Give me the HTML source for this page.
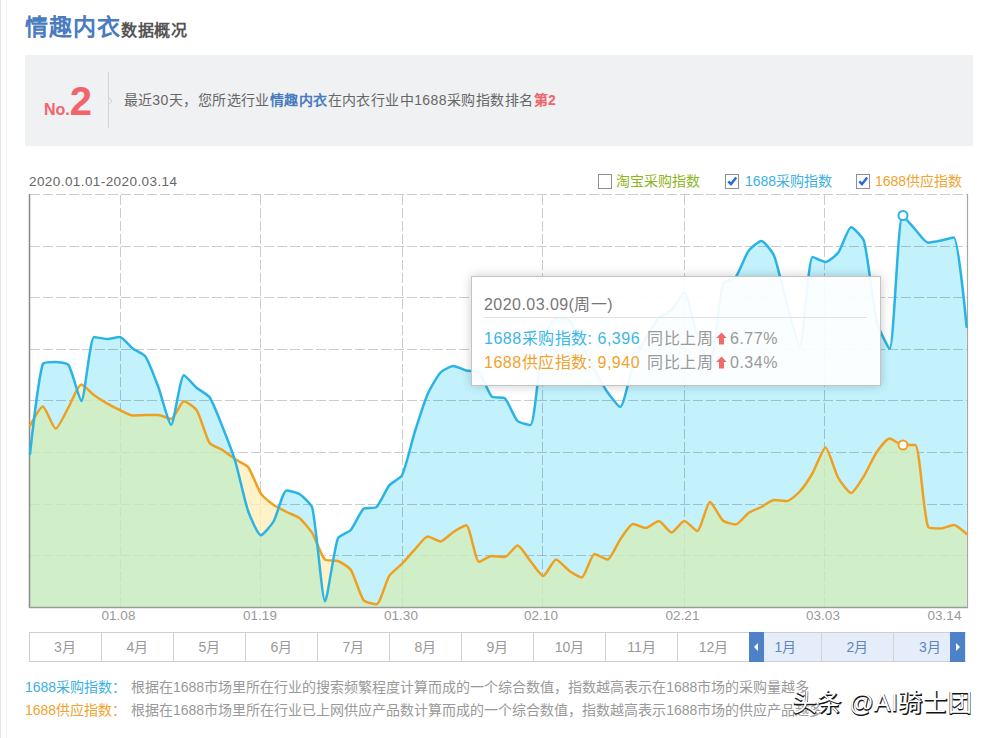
<!DOCTYPE html>
<html lang="zh-CN"><head><meta charset="utf-8">
<style>
*{margin:0;padding:0;box-sizing:border-box}
html,body{width:996px;height:738px;overflow:hidden;background:#fff}
body{position:relative;font-family:"Liberation Sans",sans-serif;color:#666}
.abs{position:absolute;white-space:nowrap}
#leftbar{left:0;top:0;width:1px;height:738px;background:#e6e6e6}
#title{left:25px;top:12px;line-height:30px}
#title .t1{font-size:23px;font-weight:bold;color:#4a7cc0;letter-spacing:1px}
#title .t2{font-size:16px;font-weight:bold;color:#555;position:relative;top:1px;letter-spacing:0.5px}
#rankbox{left:25px;top:55px;width:948px;height:91px;background:#f0f1f3}
#no{left:44px;top:80.5px;line-height:40px;color:#f2636b;font-weight:bold}
#no .n1{font-size:16px}
#no .n2{font-size:40px;margin-left:0}
#divider{left:108px;top:72px;width:1px;height:56px;background:#d3d3d3}
#rtext{left:123.5px;top:90px;font-size:14px;line-height:20px;color:#666;letter-spacing:0.43px}
#rtext b{color:#4a7cc0}
#rtext .r{color:#f2636b}
#daterange{left:29px;top:171.5px;font-size:13.5px;line-height:20px;color:#666;letter-spacing:0.42px}
.cb{position:absolute;width:14px;height:14.5px;border:1px solid #8f8f8f;background:#fff}
.cbl{position:absolute;font-size:14px;line-height:20px;white-space:nowrap}
.xl{position:absolute;top:607px;font-size:13.5px;line-height:18px;color:#999;white-space:nowrap;transform:translateX(-50%)}
#months{left:29px;top:632px;width:937px;height:30px;border:1px solid #cfcfcf;background:#fff}
.mc{position:absolute;top:0;height:28px;width:72px;border-left:1px solid #d2d2d2;text-align:center;font-size:14px;line-height:28px;color:#999}
.sel{background:#e4edf9;color:#5f86bd}
.arr{position:absolute;top:-1px;width:15px;height:30px;background:#4d82c9}
#notes div{position:relative;height:23px}
#notes{left:25px;top:676px;font-size:14px;line-height:23px;color:#999}
#notes .ds{position:absolute;left:106px}
#notes .b{color:#3cb1e1}
#notes .o{color:#f0a32e}
#wm{left:793px;top:689px;font-size:24px;line-height:30px;color:#111;letter-spacing:0.7px;-webkit-text-stroke:0.9px #111}
#wm2{left:792.5px;top:688px;font-size:24px;line-height:30px;color:#fff;letter-spacing:0.7px}
#tip{left:471px;top:276px;width:410px;height:110px;background:rgba(255,255,255,0.93);border:1px solid #c4c4c4;box-shadow:0 0 10px rgba(0,0,0,0.2)}
#tip .d{position:absolute;left:12px;top:16px;font-size:16px;line-height:24px;color:#777;letter-spacing:0.45px}
#tip .sep{position:absolute;left:12px;top:40px;width:383px;height:1px;background:#e2e2e2}
#tip .l{position:absolute;left:12px;font-size:16px;line-height:24px;color:#999;letter-spacing:0.5px}
#tip .l .b{color:#3cb6e6}
#tip .l .o{color:#f0a32e}
</style></head><body>
<div id="leftbar" class="abs"></div><div class="abs" style="left:6px;top:0;width:1px;height:738px;background:#f5f5f5"></div>
<div id="title" class="abs"><span class="t1">情趣内衣</span><span class="t2">数据概况</span></div>
<div id="rankbox" class="abs"></div>
<div id="no" class="abs"><span class="n1">No.</span><span class="n2">2</span></div>
<div id="divider" class="abs"></div><svg class="abs" style="left:106px;top:94px" width="8" height="14" viewBox="0 0 8 14"><path d="M2.5 3 L6 7 L2.5 11" fill="none" stroke="#d3d3d3" stroke-width="1"/></svg>
<div id="rtext" class="abs">最近30天，您所选行业<b>情趣内衣</b>在内衣行业中1688采购指数排名<b class="r">第2</b></div>
<div id="daterange" class="abs">2020.01.01-2020.03.14</div>

<div class="cb" style="left:598px;top:174px"></div>
<div class="cbl" style="left:616px;top:171px;color:#8db520">淘宝采购指数</div>
<div class="cb" style="left:725px;top:174px"><svg width="12" height="12" viewBox="0 0 12 12" style="position:absolute;left:0;top:0"><path d="M2.3 6.3 L5 9.2 L10.2 2.6" fill="none" stroke="#2a6ad8" stroke-width="2.5"/></svg></div>
<div class="cbl" style="left:745px;top:171px;color:#3cb1e1">1688采购指数</div>
<div class="cb" style="left:856px;top:174px"><svg width="12" height="12" viewBox="0 0 12 12" style="position:absolute;left:0;top:0"><path d="M2.3 6.3 L5 9.2 L10.2 2.6" fill="none" stroke="#2a6ad8" stroke-width="2.5"/></svg></div>
<div class="cbl" style="left:875px;top:171px;color:#f0a32e">1688供应指数</div>

<svg class="abs" style="left:0;top:0" width="996" height="738" viewBox="0 0 996 738">
  <defs>
    <clipPath id="bclip"><path d="M30.00 454.00 C30.00 454.00 38.34 378.00 42.83 364.00 C43.47 362.00 53.11 362.00 55.66 362.00 C58.25 362.00 67.17 363.00 68.49 365.00 C72.31 370.80 79.43 401.00 81.32 401.00 C84.56 401.00 89.87 337.00 94.15 337.00 C95.00 337.00 104.41 339.00 106.98 339.00 C109.55 339.00 117.61 337.00 119.81 337.00 C122.74 337.00 129.91 346.42 132.64 348.50 C135.04 350.34 143.85 354.17 145.47 356.60 C148.99 361.87 155.98 380.83 158.30 387.00 C161.11 394.45 168.88 424.70 171.13 424.70 C174.01 424.70 180.17 375.30 183.96 375.30 C185.30 375.30 194.06 385.66 196.79 388.00 C199.19 390.06 207.92 394.74 209.62 397.30 C213.06 402.48 220.07 420.75 222.45 426.70 C225.20 433.55 233.14 454.25 235.28 461.30 C238.27 471.11 244.77 501.36 248.11 511.00 C249.90 516.14 257.92 535.20 260.94 535.20 C263.05 535.20 271.89 524.28 273.77 521.00 C277.02 515.34 282.94 490.50 286.60 490.50 C288.07 490.50 297.31 492.57 299.43 494.00 C302.44 496.03 311.41 504.23 312.26 507.80 C316.54 525.69 322.04 601.30 325.09 601.30 C327.17 601.30 333.78 549.82 337.92 538.30 C338.91 535.56 348.80 532.25 350.75 530.00 C353.93 526.35 360.21 511.80 363.58 508.80 C365.34 507.24 374.68 508.78 376.41 507.20 C379.81 504.10 386.13 489.28 389.24 485.40 C391.26 482.88 400.72 478.05 402.07 475.20 C405.85 467.27 412.16 440.18 414.90 431.50 C417.30 423.92 424.58 401.15 427.73 393.90 C429.71 389.35 437.31 376.04 440.56 372.50 C442.44 370.46 450.76 366.00 453.39 366.00 C455.89 366.00 463.60 369.84 466.22 370.50 C468.73 371.14 477.40 370.82 479.05 372.50 C482.53 376.04 488.40 393.22 491.88 396.60 C493.53 398.20 503.02 396.60 504.72 398.20 C508.15 401.44 514.15 417.46 517.55 421.00 C519.29 422.82 529.68 425.00 530.38 425.00 C534.81 425.00 539.23 356.50 543.21 340.00 C544.36 335.20 552.65 318.50 556.04 318.50 C557.78 318.50 567.25 318.50 568.87 320.00 C572.38 323.26 579.13 340.00 581.70 345.00 C584.26 350.00 591.83 365.07 594.53 370.00 C596.97 374.47 604.46 387.83 607.36 392.00 C609.60 395.23 618.59 407.00 620.19 407.00 C623.73 407.00 629.96 373.21 633.02 365.00 C635.09 359.41 642.99 343.24 645.85 338.00 C648.12 333.84 655.54 321.42 658.68 318.00 C660.67 315.82 669.40 312.09 671.51 310.00 C674.53 306.99 682.65 292.50 684.34 292.50 C687.78 292.50 694.21 326.64 697.17 335.00 C699.34 341.14 708.54 365.00 710.00 365.00 C713.67 365.00 718.47 298.94 722.83 284.00 C723.60 281.34 733.94 279.21 735.66 277.00 C739.07 272.61 745.20 255.61 748.49 251.00 C750.33 248.41 759.00 241.00 761.32 241.00 C764.13 241.00 772.71 252.41 774.15 256.00 C777.84 265.21 784.20 295.26 786.98 305.00 C789.33 313.26 798.15 346.00 799.81 346.00 C803.28 346.00 808.19 257.00 812.64 257.00 C813.32 257.00 823.09 262.00 825.47 262.00 C828.22 262.00 836.45 255.09 838.30 252.60 C841.59 248.15 848.04 227.30 851.13 227.30 C853.17 227.30 863.00 237.47 863.96 241.00 C868.14 256.41 873.03 306.17 876.79 322.00 C878.16 327.77 888.68 349.00 889.62 349.00 C893.82 349.00 897.96 215.40 902.45 215.40 C903.09 215.40 912.67 226.72 915.28 229.50 C917.80 232.18 925.10 242.70 928.11 242.70 C930.23 242.70 938.39 241.11 940.94 240.60 C943.52 240.09 953.12 237.60 953.77 237.60 C958.25 237.60 966.60 327.00 966.60 327.00 L966.60 607.50 L30.00 607.50 Z"/></clipPath>
  </defs>
  <path d="M30.00 454.00 C30.00 454.00 38.34 378.00 42.83 364.00 C43.47 362.00 53.11 362.00 55.66 362.00 C58.25 362.00 67.17 363.00 68.49 365.00 C72.31 370.80 79.43 401.00 81.32 401.00 C84.56 401.00 89.87 337.00 94.15 337.00 C95.00 337.00 104.41 339.00 106.98 339.00 C109.55 339.00 117.61 337.00 119.81 337.00 C122.74 337.00 129.91 346.42 132.64 348.50 C135.04 350.34 143.85 354.17 145.47 356.60 C148.99 361.87 155.98 380.83 158.30 387.00 C161.11 394.45 168.88 424.70 171.13 424.70 C174.01 424.70 180.17 375.30 183.96 375.30 C185.30 375.30 194.06 385.66 196.79 388.00 C199.19 390.06 207.92 394.74 209.62 397.30 C213.06 402.48 220.07 420.75 222.45 426.70 C225.20 433.55 233.14 454.25 235.28 461.30 C238.27 471.11 244.77 501.36 248.11 511.00 C249.90 516.14 257.92 535.20 260.94 535.20 C263.05 535.20 271.89 524.28 273.77 521.00 C277.02 515.34 282.94 490.50 286.60 490.50 C288.07 490.50 297.31 492.57 299.43 494.00 C302.44 496.03 311.41 504.23 312.26 507.80 C316.54 525.69 322.04 601.30 325.09 601.30 C327.17 601.30 333.78 549.82 337.92 538.30 C338.91 535.56 348.80 532.25 350.75 530.00 C353.93 526.35 360.21 511.80 363.58 508.80 C365.34 507.24 374.68 508.78 376.41 507.20 C379.81 504.10 386.13 489.28 389.24 485.40 C391.26 482.88 400.72 478.05 402.07 475.20 C405.85 467.27 412.16 440.18 414.90 431.50 C417.30 423.92 424.58 401.15 427.73 393.90 C429.71 389.35 437.31 376.04 440.56 372.50 C442.44 370.46 450.76 366.00 453.39 366.00 C455.89 366.00 463.60 369.84 466.22 370.50 C468.73 371.14 477.40 370.82 479.05 372.50 C482.53 376.04 488.40 393.22 491.88 396.60 C493.53 398.20 503.02 396.60 504.72 398.20 C508.15 401.44 514.15 417.46 517.55 421.00 C519.29 422.82 529.68 425.00 530.38 425.00 C534.81 425.00 539.23 356.50 543.21 340.00 C544.36 335.20 552.65 318.50 556.04 318.50 C557.78 318.50 567.25 318.50 568.87 320.00 C572.38 323.26 579.13 340.00 581.70 345.00 C584.26 350.00 591.83 365.07 594.53 370.00 C596.97 374.47 604.46 387.83 607.36 392.00 C609.60 395.23 618.59 407.00 620.19 407.00 C623.73 407.00 629.96 373.21 633.02 365.00 C635.09 359.41 642.99 343.24 645.85 338.00 C648.12 333.84 655.54 321.42 658.68 318.00 C660.67 315.82 669.40 312.09 671.51 310.00 C674.53 306.99 682.65 292.50 684.34 292.50 C687.78 292.50 694.21 326.64 697.17 335.00 C699.34 341.14 708.54 365.00 710.00 365.00 C713.67 365.00 718.47 298.94 722.83 284.00 C723.60 281.34 733.94 279.21 735.66 277.00 C739.07 272.61 745.20 255.61 748.49 251.00 C750.33 248.41 759.00 241.00 761.32 241.00 C764.13 241.00 772.71 252.41 774.15 256.00 C777.84 265.21 784.20 295.26 786.98 305.00 C789.33 313.26 798.15 346.00 799.81 346.00 C803.28 346.00 808.19 257.00 812.64 257.00 C813.32 257.00 823.09 262.00 825.47 262.00 C828.22 262.00 836.45 255.09 838.30 252.60 C841.59 248.15 848.04 227.30 851.13 227.30 C853.17 227.30 863.00 237.47 863.96 241.00 C868.14 256.41 873.03 306.17 876.79 322.00 C878.16 327.77 888.68 349.00 889.62 349.00 C893.82 349.00 897.96 215.40 902.45 215.40 C903.09 215.40 912.67 226.72 915.28 229.50 C917.80 232.18 925.10 242.70 928.11 242.70 C930.23 242.70 938.39 241.11 940.94 240.60 C943.52 240.09 953.12 237.60 953.77 237.60 C958.25 237.60 966.60 327.00 966.60 327.00 L966.60 607.50 L30.00 607.50 Z" fill="#c3f2fd"/>
  <g stroke="#000" stroke-width="1" stroke-dasharray="10 3" stroke-opacity="0.2">
    <line x1="30" y1="194.5" x2="967" y2="194.5"/>
    <line x1="30" y1="246.5" x2="967" y2="246.5"/>
    <line x1="30" y1="297.5" x2="967" y2="297.5"/>
    <line x1="30" y1="349.5" x2="967" y2="349.5"/>
    <line x1="30" y1="400.5" x2="967" y2="400.5"/>
    <line x1="30" y1="452.5" x2="967" y2="452.5"/>
    <line x1="30" y1="504.5" x2="967" y2="504.5"/>
    <line x1="30" y1="555.5" x2="967" y2="555.5"/>
    <line x1="120.5" y1="195" x2="120.5" y2="607"/>
    <line x1="260.5" y1="195" x2="260.5" y2="607"/>
    <line x1="402.5" y1="195" x2="402.5" y2="607"/>
    <line x1="542.5" y1="195" x2="542.5" y2="607"/>
    <line x1="684.5" y1="195" x2="684.5" y2="607"/>
    <line x1="824.5" y1="195" x2="824.5" y2="607"/>
  </g>
  <g opacity="0.78">
    <path d="M30.00 425.70 C30.00 425.70 40.40 406.50 42.83 406.50 C45.53 406.50 53.05 428.70 55.66 428.70 C58.19 428.70 65.99 411.70 68.49 407.40 C71.12 402.88 78.18 384.60 81.32 384.60 C83.32 384.60 91.47 393.24 94.15 395.20 C96.60 396.98 104.35 401.79 106.98 403.30 C109.49 404.75 117.20 408.76 119.81 410.00 C122.33 411.20 129.97 415.50 132.64 415.50 C135.10 415.50 142.90 415.00 145.47 415.00 C148.04 415.00 155.79 415.00 158.30 415.00 C160.93 415.00 169.18 419.00 171.13 419.00 C174.31 419.00 180.98 401.30 183.96 401.30 C186.11 401.30 195.20 407.82 196.79 410.40 C200.33 416.16 206.00 437.41 209.62 443.00 C211.13 445.33 219.99 448.44 222.45 450.00 C225.12 451.70 232.64 457.55 235.28 459.30 C237.77 460.95 246.39 464.69 248.11 467.00 C251.52 471.55 257.70 488.79 260.94 493.60 C262.83 496.39 271.00 503.01 273.77 505.00 C276.13 506.69 284.00 510.68 286.60 512.00 C289.13 513.28 297.30 516.24 299.43 518.00 C302.43 520.48 310.19 529.84 312.26 533.20 C315.32 538.16 321.53 556.42 325.09 559.60 C326.66 561.00 335.60 560.08 337.92 561.00 C340.73 562.12 349.11 567.29 350.75 569.80 C354.24 575.13 359.94 595.30 363.58 600.20 C365.07 602.20 374.86 604.30 376.41 604.30 C380.00 604.30 385.97 581.08 389.24 575.90 C391.10 572.96 399.61 566.24 402.07 563.70 C404.74 560.94 412.27 552.19 414.90 549.40 C417.40 546.75 424.81 536.50 427.73 536.50 C429.94 536.50 438.19 541.40 440.56 541.40 C443.32 541.40 450.71 533.69 453.39 532.00 C455.84 530.47 464.83 525.30 466.22 525.30 C469.96 525.30 475.29 561.80 479.05 561.80 C480.42 561.80 489.20 556.00 491.88 556.00 C494.34 556.00 502.52 557.00 504.72 557.00 C507.65 557.00 515.18 545.50 517.55 545.50 C520.31 545.50 527.78 557.92 530.38 561.00 C532.92 564.02 540.71 576.00 543.21 576.00 C545.84 576.00 553.20 559.50 556.04 559.50 C558.33 559.50 566.11 568.57 568.87 570.50 C571.25 572.17 579.88 577.50 581.70 577.50 C585.02 577.50 591.16 554.00 594.53 554.00 C596.29 554.00 605.46 559.60 607.36 559.60 C610.59 559.60 617.40 543.36 620.19 539.50 C622.53 536.24 629.94 524.00 633.02 524.00 C635.07 524.00 643.39 528.00 645.85 528.00 C648.52 528.00 656.32 521.00 658.68 521.00 C661.45 521.00 668.94 532.50 671.51 532.50 C674.07 532.50 681.70 521.00 684.34 521.00 C686.83 521.00 695.43 531.00 697.17 531.00 C700.56 531.00 707.00 502.00 710.00 502.00 C712.13 502.00 719.61 517.68 722.83 520.50 C724.75 522.18 733.41 524.50 735.66 524.50 C738.54 524.50 745.67 514.92 748.49 513.00 C750.80 511.42 758.79 508.28 761.32 507.00 C763.92 505.68 771.42 500.00 774.15 500.00 C776.55 500.00 784.69 501.00 786.98 501.00 C789.82 501.00 797.68 493.82 799.81 491.50 C802.81 488.22 810.38 476.88 812.64 473.00 C815.51 468.08 823.09 447.50 825.47 447.50 C828.22 447.50 835.08 472.30 838.30 478.00 C840.22 481.40 848.66 493.00 851.13 493.00 C853.79 493.00 861.71 479.60 863.96 476.00 C866.84 471.40 873.74 456.45 876.79 452.00 C878.87 448.95 886.72 438.50 889.62 438.50 C891.86 438.50 899.74 445.00 902.45 445.00 C904.87 445.00 914.59 445.00 915.28 445.00 C919.72 445.00 923.67 517.36 928.11 527.00 C928.80 528.50 938.41 528.50 940.94 528.50 C943.54 528.50 951.41 525.00 953.77 525.00 C956.55 525.00 966.60 534.00 966.60 534.00 L966.60 607.50 L30.00 607.50 Z" fill="#ffefba"/>
    <path d="M30.00 425.70 C30.00 425.70 40.40 406.50 42.83 406.50 C45.53 406.50 53.05 428.70 55.66 428.70 C58.19 428.70 65.99 411.70 68.49 407.40 C71.12 402.88 78.18 384.60 81.32 384.60 C83.32 384.60 91.47 393.24 94.15 395.20 C96.60 396.98 104.35 401.79 106.98 403.30 C109.49 404.75 117.20 408.76 119.81 410.00 C122.33 411.20 129.97 415.50 132.64 415.50 C135.10 415.50 142.90 415.00 145.47 415.00 C148.04 415.00 155.79 415.00 158.30 415.00 C160.93 415.00 169.18 419.00 171.13 419.00 C174.31 419.00 180.98 401.30 183.96 401.30 C186.11 401.30 195.20 407.82 196.79 410.40 C200.33 416.16 206.00 437.41 209.62 443.00 C211.13 445.33 219.99 448.44 222.45 450.00 C225.12 451.70 232.64 457.55 235.28 459.30 C237.77 460.95 246.39 464.69 248.11 467.00 C251.52 471.55 257.70 488.79 260.94 493.60 C262.83 496.39 271.00 503.01 273.77 505.00 C276.13 506.69 284.00 510.68 286.60 512.00 C289.13 513.28 297.30 516.24 299.43 518.00 C302.43 520.48 310.19 529.84 312.26 533.20 C315.32 538.16 321.53 556.42 325.09 559.60 C326.66 561.00 335.60 560.08 337.92 561.00 C340.73 562.12 349.11 567.29 350.75 569.80 C354.24 575.13 359.94 595.30 363.58 600.20 C365.07 602.20 374.86 604.30 376.41 604.30 C380.00 604.30 385.97 581.08 389.24 575.90 C391.10 572.96 399.61 566.24 402.07 563.70 C404.74 560.94 412.27 552.19 414.90 549.40 C417.40 546.75 424.81 536.50 427.73 536.50 C429.94 536.50 438.19 541.40 440.56 541.40 C443.32 541.40 450.71 533.69 453.39 532.00 C455.84 530.47 464.83 525.30 466.22 525.30 C469.96 525.30 475.29 561.80 479.05 561.80 C480.42 561.80 489.20 556.00 491.88 556.00 C494.34 556.00 502.52 557.00 504.72 557.00 C507.65 557.00 515.18 545.50 517.55 545.50 C520.31 545.50 527.78 557.92 530.38 561.00 C532.92 564.02 540.71 576.00 543.21 576.00 C545.84 576.00 553.20 559.50 556.04 559.50 C558.33 559.50 566.11 568.57 568.87 570.50 C571.25 572.17 579.88 577.50 581.70 577.50 C585.02 577.50 591.16 554.00 594.53 554.00 C596.29 554.00 605.46 559.60 607.36 559.60 C610.59 559.60 617.40 543.36 620.19 539.50 C622.53 536.24 629.94 524.00 633.02 524.00 C635.07 524.00 643.39 528.00 645.85 528.00 C648.52 528.00 656.32 521.00 658.68 521.00 C661.45 521.00 668.94 532.50 671.51 532.50 C674.07 532.50 681.70 521.00 684.34 521.00 C686.83 521.00 695.43 531.00 697.17 531.00 C700.56 531.00 707.00 502.00 710.00 502.00 C712.13 502.00 719.61 517.68 722.83 520.50 C724.75 522.18 733.41 524.50 735.66 524.50 C738.54 524.50 745.67 514.92 748.49 513.00 C750.80 511.42 758.79 508.28 761.32 507.00 C763.92 505.68 771.42 500.00 774.15 500.00 C776.55 500.00 784.69 501.00 786.98 501.00 C789.82 501.00 797.68 493.82 799.81 491.50 C802.81 488.22 810.38 476.88 812.64 473.00 C815.51 468.08 823.09 447.50 825.47 447.50 C828.22 447.50 835.08 472.30 838.30 478.00 C840.22 481.40 848.66 493.00 851.13 493.00 C853.79 493.00 861.71 479.60 863.96 476.00 C866.84 471.40 873.74 456.45 876.79 452.00 C878.87 448.95 886.72 438.50 889.62 438.50 C891.86 438.50 899.74 445.00 902.45 445.00 C904.87 445.00 914.59 445.00 915.28 445.00 C919.72 445.00 923.67 517.36 928.11 527.00 C928.80 528.50 938.41 528.50 940.94 528.50 C943.54 528.50 951.41 525.00 953.77 525.00 C956.55 525.00 966.60 534.00 966.60 534.00 L966.60 607.50 L30.00 607.50 Z" fill="#d4efbb" clip-path="url(#bclip)"/>
  </g>
  <line x1="29.5" y1="194" x2="29.5" y2="608" stroke="#8a8a8a" stroke-width="1.5"/>
  <line x1="967.5" y1="194" x2="967.5" y2="608" stroke="#a8a8a8" stroke-width="1.2"/>
  <line x1="29" y1="607.5" x2="968" y2="607.5" stroke="#9a9a9a" stroke-width="1.5"/>
  <path d="M30.00 425.70 C30.00 425.70 40.40 406.50 42.83 406.50 C45.53 406.50 53.05 428.70 55.66 428.70 C58.19 428.70 65.99 411.70 68.49 407.40 C71.12 402.88 78.18 384.60 81.32 384.60 C83.32 384.60 91.47 393.24 94.15 395.20 C96.60 396.98 104.35 401.79 106.98 403.30 C109.49 404.75 117.20 408.76 119.81 410.00 C122.33 411.20 129.97 415.50 132.64 415.50 C135.10 415.50 142.90 415.00 145.47 415.00 C148.04 415.00 155.79 415.00 158.30 415.00 C160.93 415.00 169.18 419.00 171.13 419.00 C174.31 419.00 180.98 401.30 183.96 401.30 C186.11 401.30 195.20 407.82 196.79 410.40 C200.33 416.16 206.00 437.41 209.62 443.00 C211.13 445.33 219.99 448.44 222.45 450.00 C225.12 451.70 232.64 457.55 235.28 459.30 C237.77 460.95 246.39 464.69 248.11 467.00 C251.52 471.55 257.70 488.79 260.94 493.60 C262.83 496.39 271.00 503.01 273.77 505.00 C276.13 506.69 284.00 510.68 286.60 512.00 C289.13 513.28 297.30 516.24 299.43 518.00 C302.43 520.48 310.19 529.84 312.26 533.20 C315.32 538.16 321.53 556.42 325.09 559.60 C326.66 561.00 335.60 560.08 337.92 561.00 C340.73 562.12 349.11 567.29 350.75 569.80 C354.24 575.13 359.94 595.30 363.58 600.20 C365.07 602.20 374.86 604.30 376.41 604.30 C380.00 604.30 385.97 581.08 389.24 575.90 C391.10 572.96 399.61 566.24 402.07 563.70 C404.74 560.94 412.27 552.19 414.90 549.40 C417.40 546.75 424.81 536.50 427.73 536.50 C429.94 536.50 438.19 541.40 440.56 541.40 C443.32 541.40 450.71 533.69 453.39 532.00 C455.84 530.47 464.83 525.30 466.22 525.30 C469.96 525.30 475.29 561.80 479.05 561.80 C480.42 561.80 489.20 556.00 491.88 556.00 C494.34 556.00 502.52 557.00 504.72 557.00 C507.65 557.00 515.18 545.50 517.55 545.50 C520.31 545.50 527.78 557.92 530.38 561.00 C532.92 564.02 540.71 576.00 543.21 576.00 C545.84 576.00 553.20 559.50 556.04 559.50 C558.33 559.50 566.11 568.57 568.87 570.50 C571.25 572.17 579.88 577.50 581.70 577.50 C585.02 577.50 591.16 554.00 594.53 554.00 C596.29 554.00 605.46 559.60 607.36 559.60 C610.59 559.60 617.40 543.36 620.19 539.50 C622.53 536.24 629.94 524.00 633.02 524.00 C635.07 524.00 643.39 528.00 645.85 528.00 C648.52 528.00 656.32 521.00 658.68 521.00 C661.45 521.00 668.94 532.50 671.51 532.50 C674.07 532.50 681.70 521.00 684.34 521.00 C686.83 521.00 695.43 531.00 697.17 531.00 C700.56 531.00 707.00 502.00 710.00 502.00 C712.13 502.00 719.61 517.68 722.83 520.50 C724.75 522.18 733.41 524.50 735.66 524.50 C738.54 524.50 745.67 514.92 748.49 513.00 C750.80 511.42 758.79 508.28 761.32 507.00 C763.92 505.68 771.42 500.00 774.15 500.00 C776.55 500.00 784.69 501.00 786.98 501.00 C789.82 501.00 797.68 493.82 799.81 491.50 C802.81 488.22 810.38 476.88 812.64 473.00 C815.51 468.08 823.09 447.50 825.47 447.50 C828.22 447.50 835.08 472.30 838.30 478.00 C840.22 481.40 848.66 493.00 851.13 493.00 C853.79 493.00 861.71 479.60 863.96 476.00 C866.84 471.40 873.74 456.45 876.79 452.00 C878.87 448.95 886.72 438.50 889.62 438.50 C891.86 438.50 899.74 445.00 902.45 445.00 C904.87 445.00 914.59 445.00 915.28 445.00 C919.72 445.00 923.67 517.36 928.11 527.00 C928.80 528.50 938.41 528.50 940.94 528.50 C943.54 528.50 951.41 525.00 953.77 525.00 C956.55 525.00 966.60 534.00 966.60 534.00" fill="none" stroke="#f0a020" stroke-width="2.5" stroke-linejoin="round" stroke-linecap="round"/>
  <path d="M30.00 454.00 C30.00 454.00 38.34 378.00 42.83 364.00 C43.47 362.00 53.11 362.00 55.66 362.00 C58.25 362.00 67.17 363.00 68.49 365.00 C72.31 370.80 79.43 401.00 81.32 401.00 C84.56 401.00 89.87 337.00 94.15 337.00 C95.00 337.00 104.41 339.00 106.98 339.00 C109.55 339.00 117.61 337.00 119.81 337.00 C122.74 337.00 129.91 346.42 132.64 348.50 C135.04 350.34 143.85 354.17 145.47 356.60 C148.99 361.87 155.98 380.83 158.30 387.00 C161.11 394.45 168.88 424.70 171.13 424.70 C174.01 424.70 180.17 375.30 183.96 375.30 C185.30 375.30 194.06 385.66 196.79 388.00 C199.19 390.06 207.92 394.74 209.62 397.30 C213.06 402.48 220.07 420.75 222.45 426.70 C225.20 433.55 233.14 454.25 235.28 461.30 C238.27 471.11 244.77 501.36 248.11 511.00 C249.90 516.14 257.92 535.20 260.94 535.20 C263.05 535.20 271.89 524.28 273.77 521.00 C277.02 515.34 282.94 490.50 286.60 490.50 C288.07 490.50 297.31 492.57 299.43 494.00 C302.44 496.03 311.41 504.23 312.26 507.80 C316.54 525.69 322.04 601.30 325.09 601.30 C327.17 601.30 333.78 549.82 337.92 538.30 C338.91 535.56 348.80 532.25 350.75 530.00 C353.93 526.35 360.21 511.80 363.58 508.80 C365.34 507.24 374.68 508.78 376.41 507.20 C379.81 504.10 386.13 489.28 389.24 485.40 C391.26 482.88 400.72 478.05 402.07 475.20 C405.85 467.27 412.16 440.18 414.90 431.50 C417.30 423.92 424.58 401.15 427.73 393.90 C429.71 389.35 437.31 376.04 440.56 372.50 C442.44 370.46 450.76 366.00 453.39 366.00 C455.89 366.00 463.60 369.84 466.22 370.50 C468.73 371.14 477.40 370.82 479.05 372.50 C482.53 376.04 488.40 393.22 491.88 396.60 C493.53 398.20 503.02 396.60 504.72 398.20 C508.15 401.44 514.15 417.46 517.55 421.00 C519.29 422.82 529.68 425.00 530.38 425.00 C534.81 425.00 539.23 356.50 543.21 340.00 C544.36 335.20 552.65 318.50 556.04 318.50 C557.78 318.50 567.25 318.50 568.87 320.00 C572.38 323.26 579.13 340.00 581.70 345.00 C584.26 350.00 591.83 365.07 594.53 370.00 C596.97 374.47 604.46 387.83 607.36 392.00 C609.60 395.23 618.59 407.00 620.19 407.00 C623.73 407.00 629.96 373.21 633.02 365.00 C635.09 359.41 642.99 343.24 645.85 338.00 C648.12 333.84 655.54 321.42 658.68 318.00 C660.67 315.82 669.40 312.09 671.51 310.00 C674.53 306.99 682.65 292.50 684.34 292.50 C687.78 292.50 694.21 326.64 697.17 335.00 C699.34 341.14 708.54 365.00 710.00 365.00 C713.67 365.00 718.47 298.94 722.83 284.00 C723.60 281.34 733.94 279.21 735.66 277.00 C739.07 272.61 745.20 255.61 748.49 251.00 C750.33 248.41 759.00 241.00 761.32 241.00 C764.13 241.00 772.71 252.41 774.15 256.00 C777.84 265.21 784.20 295.26 786.98 305.00 C789.33 313.26 798.15 346.00 799.81 346.00 C803.28 346.00 808.19 257.00 812.64 257.00 C813.32 257.00 823.09 262.00 825.47 262.00 C828.22 262.00 836.45 255.09 838.30 252.60 C841.59 248.15 848.04 227.30 851.13 227.30 C853.17 227.30 863.00 237.47 863.96 241.00 C868.14 256.41 873.03 306.17 876.79 322.00 C878.16 327.77 888.68 349.00 889.62 349.00 C893.82 349.00 897.96 215.40 902.45 215.40 C903.09 215.40 912.67 226.72 915.28 229.50 C917.80 232.18 925.10 242.70 928.11 242.70 C930.23 242.70 938.39 241.11 940.94 240.60 C943.52 240.09 953.12 237.60 953.77 237.60 C958.25 237.60 966.60 327.00 966.60 327.00" fill="none" stroke="#2ab4e6" stroke-width="2.5" stroke-linejoin="round" stroke-linecap="round"/>
  <circle cx="903" cy="215.5" r="4.5" fill="#fff" stroke="#2ab4e6" stroke-width="2"/>
  <circle cx="903" cy="445" r="4.5" fill="#fff" stroke="#f0a020" stroke-width="2"/>
</svg>

<div class="xl" style="left:118.5px">01.08</div>
<div class="xl" style="left:260px">01.19</div>
<div class="xl" style="left:401px">01.30</div>
<div class="xl" style="left:541px">02.10</div>
<div class="xl" style="left:682.5px">02.21</div>
<div class="xl" style="left:823px">03.03</div>
<div class="xl" style="left:944.5px">03.14</div>

<div id="months" class="abs">
  <div class="mc" style="left:-1px;border-left:none">3月</div>
  <div class="mc" style="left:71px">4月</div>
  <div class="mc" style="left:143px">5月</div>
  <div class="mc" style="left:215px">6月</div>
  <div class="mc" style="left:287px">7月</div>
  <div class="mc" style="left:359px">8月</div>
  <div class="mc" style="left:431px">9月</div>
  <div class="mc" style="left:503px">10月</div>
  <div class="mc" style="left:575px">11月</div>
  <div class="mc" style="left:647px">12月</div>
  <div class="mc sel" style="left:719px">1月</div>
  <div class="mc sel" style="left:791px">2月</div>
  <div class="mc sel" style="left:863px;width:73px">3月</div>
  <div class="arr" style="left:719px"><svg width="15" height="30" viewBox="0 0 15 30"><path d="M5 15 L9 11 L9 19 Z" fill="#fff"/></svg></div>
  <div class="arr" style="left:920px"><svg width="15" height="30" viewBox="0 0 15 30"><path d="M10 15 L6 11 L6 19 Z" fill="#fff"/></svg></div>
</div>

<div id="notes" class="abs">
  <div><span class="b">1688采购指数：</span><span class="ds">根据在1688市场里所在行业的搜索频繁程度计算而成的一个综合数值，指数越高表示在1688市场的采购量越多</span></div>
  <div><span class="o">1688供应指数：</span><span class="ds">根据在1688市场里所在行业已上网供应产品数计算而成的一个综合数值，指数越高表示1688市场的供应产品越多</span></div>
</div>

<div id="tip" class="abs">
  <div class="d">2020.03.09(周一)</div>
  <div class="sep"></div>
  <div class="l" style="top:50px"><span class="b">1688采购指数: 6,396</span></div>
  <div class="l" style="top:50px;left:175px">同比上周</div>
  <svg class="abs" style="left:244px;top:55px" width="11" height="13" viewBox="0 0 11 13"><path d="M5.5 0.5 L10.8 6 L8 6 L8 12.5 L3 12.5 L3 6 L0.2 6 Z" fill="#f06a6a"/></svg>
  <div class="l" style="top:50px;left:258px">6.77%</div>
  <div class="l" style="top:74px"><span class="o">1688供应指数: 9,940</span></div>
  <div class="l" style="top:74px;left:175px">同比上周</div>
  <svg class="abs" style="left:244px;top:79px" width="11" height="13" viewBox="0 0 11 13"><path d="M5.5 0.5 L10.8 6 L8 6 L8 12.5 L3 12.5 L3 6 L0.2 6 Z" fill="#f06a6a"/></svg>
  <div class="l" style="top:74px;left:258px">0.34%</div>
</div>

<div id="wm" class="abs">头条 @AI骑士团</div><div id="wm2" class="abs">头条 @AI骑士团</div>
</body></html>
